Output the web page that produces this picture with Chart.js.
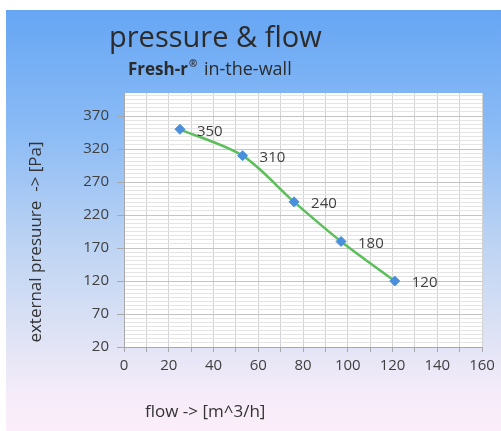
<!DOCTYPE html>
<html>
<head>
<meta charset="utf-8">
<script src="https://cdn.jsdelivr.net/npm/chart.js@4"></script>
<style>
  html, body { margin: 0; padding: 0; background: #ffffff; }
  #wrap { position: relative; width: 501px; height: 431px; overflow: hidden; }
  #panel {
    position: absolute; left: 6px; top: 10px; width: 495px; height: 421px;
    background: linear-gradient(to bottom, #66a6f4 0%, #8dbcf5 30%, #bcd3f3 55%, #dfe3f5 78%, #f6ecf9 92%, #fbeefa 100%);
  }
  #chart { position: absolute; left: 0; top: 0; }
</style>
</head>
<body>
<div id="wrap">
  <div id="panel"></div>
  <canvas id="chart" width="501" height="431"></canvas>
</div>
<script>
var flowValues = [25, 53, 76, 97, 121];
var pressureValues = [350, 310, 240, 180, 120];
var xTickLabels = [0, 20, 40, 60, 80, 100, 120, 140, 160];
var yTickLabels = [20, 70, 120, 170, 220, 270, 320, 370];

var titleText = 'pressure & flow';
var subtitleBold = 'Fresh-r';
var subtitleRest = ' in-the-wall';
var yTitleText = 'external presuure  -> [Pa]';
var xTitleText = 'flow -> [m^3/h]';

var points = flowValues.map(function(x, i) {
    return { x: x, y: pressureValues[i] };
});

var fontFamily = "'Open Sans', 'DejaVu Sans', sans-serif";
var yMinorPerMajor = 8;

function findLabel(list, v) {
    for (var i = 0; i < list.length; i++) {
        if (Math.abs(list[i] - v) < 1e-6) return list[i];
    }
    return null;
}

var textPlugin = {
    id: 'textPlugin',
    beforeDraw: function(chart) {
        var ctx = chart.ctx;
        var a = chart.chartArea;
        ctx.save();
        ctx.fillStyle = '#ffffff';
        ctx.fillRect(a.left, a.top, a.right - a.left, a.bottom - a.top);
        ctx.restore();
    },
    afterDatasetsDraw: function(chart) {
        var ctx = chart.ctx;
        ctx.save();
        // point labels
        var meta = chart.getDatasetMeta(0);
        ctx.font = '15px ' + fontFamily;
        ctx.fillStyle = '#404040';
        ctx.textAlign = 'left';
        ctx.textBaseline = 'middle';
        meta.data.forEach(function(el, i) {
            ctx.fillText(String(pressureValues[i]), el.x + 17, el.y + 2);
        });

        // title
        ctx.fillStyle = '#2b2b2b';
        ctx.font = '29px ' + fontFamily;
        ctx.textBaseline = 'alphabetic';
        ctx.fillText(titleText, 109, 47);

        // subtitle
        ctx.font = 'bold 17px ' + fontFamily;
        ctx.fillText(subtitleBold, 128, 75);
        var w = ctx.measureText(subtitleBold).width;
        ctx.font = 'bold 10px ' + fontFamily;
        ctx.fillText('\u00AE', 129 + w, 67);
        var w2 = ctx.measureText('\u00AE').width;
        ctx.font = '18px ' + fontFamily;
        ctx.fillText(subtitleRest, 131 + w + w2, 75);

        // axis titles
        ctx.fillStyle = '#333333';
        ctx.font = '17px ' + fontFamily;
        ctx.textBaseline = 'middle';
        ctx.textAlign = 'left';
        ctx.fillText(xTitleText, 145, 412);

        ctx.translate(36, 242);
        ctx.rotate(-Math.PI / 2);
        ctx.textAlign = 'center';
        ctx.fillText(yTitleText, 0, 0);
        ctx.restore();
    }
};

new Chart(document.getElementById('chart').getContext('2d'), {
    type: 'scatter',
    data: {
        datasets: [{
            label: 'pressure',
            data: points,
            showLine: true,
            tension: 0.3,
            borderColor: '#5cbf5c',
            borderWidth: 2.5,
            pointStyle: 'rectRot',
            pointRadius: 5,
            pointBackgroundColor: '#4a8fdc',
            pointBorderColor: '#4a8fdc',
            pointBorderWidth: 1
        }]
    },
    options: {
        responsive: false,
        animation: false,
        layout: {
            padding: { left: 74, top: 93, right: 19, bottom: 54 }
        },
        scales: {
            x: {
                type: 'linear',
                min: 0,
                max: 160,
                afterFit: function(scale) { scale.height = 30; },
                grid: {
                    color: '#d3d3d3',
                    tickColor: '#a8a8a8',
                    tickLength: 5
                },
                border: { color: '#a8a8a8' },
                ticks: {
                    stepSize: 10,
                    autoSkip: false,
                    maxRotation: 0,
                    padding: 5,
                    color: '#404040',
                    font: { size: 15, family: fontFamily },
                    callback: function(v) {
                        var l = findLabel(xTickLabels, v);
                        return l === null ? '' : String(l);
                    }
                }
            },
            y: {
                type: 'linear',
                min: 20,
                max: 405,
                afterFit: function(scale) { scale.width = 50; },
                afterBuildTicks: function(scale) {
                    // major ticks from the label list, split into minor steps
                    var ticks = [];
                    var step = (yTickLabels[1] - yTickLabels[0]) / yMinorPerMajor;
                    for (var v = yTickLabels[0]; v <= scale.max + 1e-9; v += step) {
                        ticks.push({ value: v });
                    }
                    scale.ticks = ticks;
                },
                grid: {
                    color: function(c) {
                        var v = c.tick ? c.tick.value : 0;
                        return findLabel(yTickLabels, v) !== null ? '#c4c4c4' : '#e4e4e4';
                    },
                    tickColor: function(c) {
                        var v = c.tick ? c.tick.value : 0;
                        return findLabel(yTickLabels, v) !== null ? '#a8a8a8' : 'rgba(0,0,0,0)';
                    },
                    tickLength: 7
                },
                border: { color: '#a8a8a8' },
                ticks: {
                    autoSkip: false,
                    padding: 8,
                    color: '#404040',
                    font: { size: 15, family: fontFamily },
                    callback: function(v) {
                        var l = findLabel(yTickLabels, v);
                        return l === null ? '' : String(l);
                    }
                }
            }
        },
        plugins: {
            legend: { display: false },
            tooltip: { enabled: false }
        }
    },
    plugins: [textPlugin]
});
</script>
</body>
</html>
